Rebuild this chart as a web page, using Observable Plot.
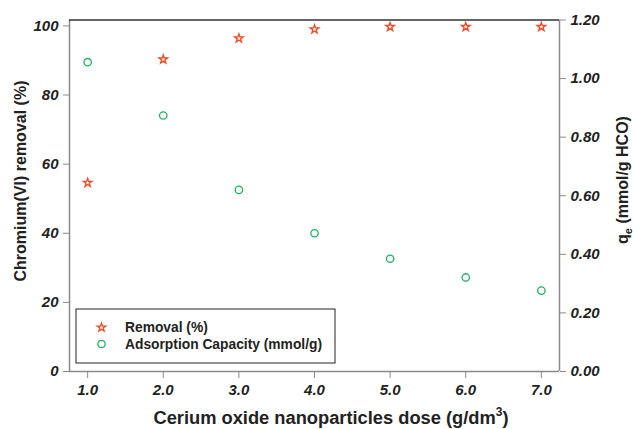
<!DOCTYPE html>
<html>
<head>
<meta charset="utf-8">
<script src="https://cdn.jsdelivr.net/npm/d3@7"></script>
<script src="https://cdn.jsdelivr.net/npm/@observablehq/plot@0.6"></script>
<style>
  html, body { margin: 0; padding: 0; background: #fff; }
  #chart { position: relative; width: 633px; height: 429px; }
  svg { font-family: "Liberation Sans", Arial, sans-serif; }
</style>
</head>
<body>
<div id="chart"></div>
<script>
// ---- data ----
const doses = [1, 2, 3, 4, 5, 6, 7];
const removal = [54.6, 90.3, 96.4, 99.0, 99.7, 99.7, 99.7];
const capacity = [1.056, 0.874, 0.620, 0.472, 0.385, 0.321, 0.276];
const xTicks = [1, 2, 3, 4, 5, 6, 7];
const leftTicks = [0, 20, 40, 60, 80, 100];
const rightTicks = [0, 0.2, 0.4, 0.6, 0.8, 1.0, 1.2];
const seriesNames = ["Removal (%)", "Adsorption Capacity (mmol/g)"];
const colors = ["#ee4a24", "#1bb35a"];

const leftMax = 101.7, rightMax = 1.2;
const k = leftMax / rightMax;
const xDomain = [0.76, 7.24];

const rows = doses.map((d, i) => ({dose: d, removal: removal[i], q: capacity[i]}));

const W = 633, H = 429;
const mL = 69, mR = 74, mT = 19.5, mB = 58;

const svg = Plot.plot({
  width: W, height: H,
  marginLeft: mL, marginRight: mR, marginTop: mT, marginBottom: mB,
  style: {fontFamily: '"Liberation Sans", Arial, sans-serif', fontSize: "15px", color: "#222", background: "#fff"},
  x: {domain: xDomain},
  y: {domain: [0, leftMax]},
  marks: [
    Plot.ruleX([xDomain[0], xDomain[1]], {stroke: "#8a8a8a", strokeWidth: 1.5}),
    Plot.ruleY([0], {stroke: "#8a8a8a", strokeWidth: 1.5}),
    Plot.ruleY([leftMax], {stroke: "#333", strokeWidth: 1.3}),
    Plot.axisX(xTicks, {anchor: "bottom", label: null, tickSize: 7, tickPadding: 6, stroke: "#8a8a8a",
      tickFormat: d => d.toFixed(1), fontWeight: "bold", fontStyle: "italic", fill: "#222"}),
    Plot.axisY(leftTicks, {anchor: "left", label: null, tickSize: 6, tickPadding: 5, stroke: "#8a8a8a",
      tickFormat: d => String(d), fontWeight: "bold", fontStyle: "italic", fill: "#222"}),
    Plot.axisY(rightTicks.map(v => v * k), {anchor: "right", label: null, tickSize: 6, tickPadding: 5, stroke: "#8a8a8a",
      tickFormat: d => (d / k).toFixed(2), fontWeight: "bold", fontStyle: "italic", fill: "#222"}),
    Plot.dot(rows, {x: "dose", y: "removal", symbol: "star", r: 2.7, stroke: colors[0], strokeWidth: 1.3, fill: "none"}),
    Plot.dot(rows, {x: "dose", y: d => d.q * k, symbol: "circle", r: 3.7, stroke: colors[1], strokeWidth: 1.3, fill: "none"})
  ]
});
document.getElementById("chart").appendChild(svg);

const s = d3.select(svg);
const ff = '"Liberation Sans", Arial, sans-serif';
// Axis titles
s.append("text")
  .attr("transform", `translate(26,181) rotate(-90)`)
  .attr("text-anchor", "middle")
  .attr("font-family", ff).attr("font-weight", "bold").attr("font-size", 16).attr("fill", "#222")
  .text("Chromium(VI) removal (%)");

const rt = s.append("text")
  .attr("transform", `translate(628,180) rotate(-90)`)
  .attr("text-anchor", "middle")
  .attr("font-family", ff).attr("font-weight", "bold").attr("font-size", 16).attr("fill", "#222");
rt.append("tspan").text("q");
rt.append("tspan").attr("font-size", 11).attr("dy", 4).text("e");
rt.append("tspan").attr("dy", -4).text(" (mmol/g HCO)");

const xt = s.append("text")
  .attr("x", 331).attr("y", 424)
  .attr("text-anchor", "middle")
  .attr("font-family", ff).attr("font-weight", "bold").attr("font-size", 18.3).attr("fill", "#222");
xt.append("tspan").text("Cerium oxide nanoparticles dose (g/dm");
xt.append("tspan").attr("font-size", 12).attr("dy", -8).text("3");
xt.append("tspan").attr("dy", 8).text(")");

// Legend
const lg = s.append("g").attr("transform", "translate(76,309)");
lg.append("rect").attr("width", 259).attr("height", 54).attr("fill", "#fff").attr("stroke", "#222").attr("stroke-width", 1);
const symbols = [d3.symbolStar, d3.symbolCircle];
const sizes = [Math.PI * 2.7 * 2.7, Math.PI * 3.7 * 3.7];
seriesNames.forEach((name, i) => {
  const yy = 18.5 + i * 16.5;
  lg.append("path")
    .attr("d", d3.symbol(symbols[i], sizes[i])())
    .attr("transform", `translate(25.5,${yy})`)
    .attr("fill", "none").attr("stroke", colors[i]).attr("stroke-width", 1.3);
  lg.append("text")
    .attr("x", 49).attr("y", yy).attr("dy", "0.35em")
    .attr("text-anchor", "start")
    .attr("font-family", ff).attr("font-weight", "bold").attr("font-size", 13.8).attr("fill", "#222")
    .text(name);
});
</script>
</body>
</html>
